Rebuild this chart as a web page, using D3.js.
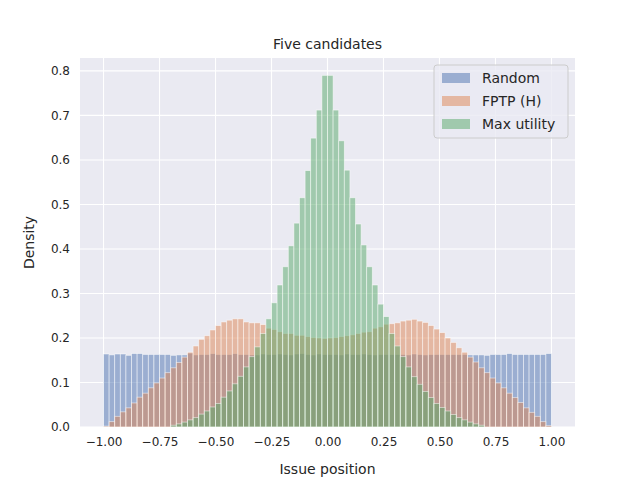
<!DOCTYPE html>
<html><head><meta charset="utf-8">
<script src="https://cdn.jsdelivr.net/npm/d3@7"></script>
<style>body{margin:0;background:#fff}text{font-family:"DejaVu Sans",sans-serif;fill:#262626}</style>
</head><body><svg id="c" width="640" height="480"></svg>
<script>
var binWidth = 0.025;
var seriesNames = ["Random", "FPTP (H)", "Max utility"];
var colors = ["#4c72b0", "#dd8452", "#55a868"];
var xTicks = [-1, -0.75, -0.5, -0.25, 0, 0.25, 0.5, 0.75, 1];
var yTicks = [0, 0.1, 0.2, 0.3, 0.4, 0.5, 0.6, 0.7, 0.8];

var randomVals = [0.164,0.162,0.164,0.164,0.161,0.165,0.165,0.163,0.163,0.163,0.163,0.163,0.161,0.162,0.162,0.166,0.162,0.163,0.163,0.165,0.163,0.163,0.163,0.165,0.163,0.163,0.162,0.162,0.164,0.163,0.163,0.164,0.163,0.162,0.164,0.165,0.163,0.162,0.164,0.163,
0.163,0.163,0.162,0.164,0.163,0.163,0.164,0.163,0.162,0.163,0.163,0.163,0.163,0.163,0.162,0.164,0.163,0.162,0.163,0.163,0.163,0.163,0.163,0.163,0.163,0.162,0.162,0.162,0.161,0.163,0.163,0.163,0.165,0.163,0.163,0.163,0.163,0.163,0.163,0.165];
var fptpVals = [0.002,0.012,0.024,0.034,0.043,0.054,0.067,0.076,0.088,0.099,0.110,0.122,0.133,0.145,0.157,0.168,0.182,0.197,0.205,0.218,0.228,0.236,0.240,0.243,0.243,0.236,0.234,0.234,0.230,0.222,0.219,0.214,0.210,0.210,0.206,0.206,0.203,0.201,0.200,0.199,
0.200,0.201,0.203,0.205,0.207,0.210,0.213,0.214,0.222,0.225,0.231,0.232,0.234,0.238,0.240,0.242,0.238,0.235,0.228,0.220,0.212,0.200,0.190,0.178,0.168,0.157,0.146,0.133,0.122,0.110,0.099,0.088,0.076,0.066,0.055,0.043,0.033,0.024,0.012,0.003];
var maxUtilVals = [0,0,0,0,0,0,0,0,0,0,0,0,0.004,0.007,0.011,0.016,0.021,0.029,0.036,0.045,0.053,0.067,0.081,0.097,0.114,0.135,0.158,0.180,0.210,0.243,0.279,0.319,0.360,0.407,0.458,0.515,0.576,0.649,0.712,0.790,
0.790,0.712,0.643,0.577,0.515,0.456,0.409,0.360,0.319,0.276,0.248,0.210,0.182,0.158,0.135,0.113,0.096,0.080,0.066,0.053,0.044,0.036,0.028,0.021,0.016,0.011,0.007,0.004,0,0,0,0,0,0,0,0,0,0,0,0];
var series = [randomVals, fptpVals, maxUtilVals];

var svg = d3.select("#c");
var L = 80, R = 575, T = 58, B = 427;
var x = d3.scaleLinear().domain([-1.105, 1.105]).range([L, R]);
var y = d3.scaleLinear().domain([0, 0.829]).range([B, T]);

svg.append("rect").attr("x", L).attr("y", T).attr("width", R - L).attr("height", B - T).attr("fill", "#eaeaf2");
svg.append("g").selectAll("line").data(xTicks).join("line")
  .attr("x1", d => x(d)).attr("x2", d => x(d)).attr("y1", T).attr("y2", B)
  .attr("stroke", "#fff").attr("stroke-width", 1.1);
svg.append("g").selectAll("line").data(yTicks).join("line")
  .attr("y1", d => y(d)).attr("y2", d => y(d)).attr("x1", L).attr("x2", R)
  .attr("stroke", "#fff").attr("stroke-width", 1.1);

series.forEach(function(vals, s) {
  svg.append("g").selectAll("rect").data(vals).join("rect")
    .attr("x", (d, i) => x(-1 + i * binWidth))
    .attr("width", x(binWidth) - x(0))
    .attr("y", d => y(d))
    .attr("height", d => B - y(d))
    .attr("fill", colors[s]).attr("fill-opacity", 0.5)
    .attr("stroke", "#fff").attr("stroke-opacity", 0.6).attr("stroke-width", 0.8);
});

var xAxis = d3.axisBottom(x).tickValues(xTicks).tickSize(0).tickPadding(10).tickFormat(d3.format(".2f"));
var gx = svg.append("g").attr("transform", "translate(0," + B + ")").call(xAxis);
gx.select(".domain").remove();
gx.selectAll("text").attr("font-size", 12).text(d => d3.format(".2f")(d).replace("-", "\u2212"));
var gy = svg.append("g").attr("transform", "translate(" + L + ",0)")
  .call(d3.axisLeft(y).tickValues(yTicks).tickSize(0).tickPadding(10).tickFormat(d3.format(".1f")));
gy.select(".domain").remove();
gy.selectAll("text").attr("font-size", 12);

svg.append("text").attr("x", (L + R) / 2).attr("y", 49).attr("text-anchor", "middle").attr("font-size", 14).text("Five candidates");
svg.append("text").attr("x", (L + R) / 2).attr("y", 474).attr("text-anchor", "middle").attr("font-size", 14).text("Issue position");
svg.append("text").attr("transform", "translate(34," + (T + B) / 2 + ") rotate(-90)").attr("text-anchor", "middle").attr("font-size", 14).text("Density");

var lg = svg.append("g").attr("transform", "translate(434,65)");
lg.append("rect").attr("width", 134).attr("height", 73).attr("rx", 3).attr("fill", "#eaeaf2").attr("fill-opacity", 0.8).attr("stroke", "#ccc");
seriesNames.forEach(function(n, i) {
  lg.append("rect").attr("x", 8).attr("y", 8 + i * 23).attr("width", 28).attr("height", 10)
    .attr("fill", colors[i]).attr("fill-opacity", 0.5);
  lg.append("text").attr("x", 48).attr("y", 18 + i * 23).attr("font-size", 14).text(n);
});
</script></body></html>
